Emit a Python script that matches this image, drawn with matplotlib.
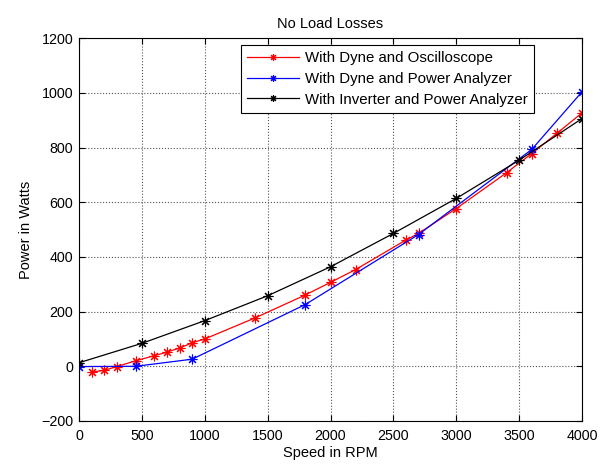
import numpy as np
import matplotlib
matplotlib.use('Agg')
from matplotlib import pyplot as plt

# data
rpm_osc = [100, 200, 300, 450, 600, 700, 800, 900, 1000, 1400, 1800, 2000, 2200, 2600, 2700, 3000, 3400, 3600, 3800, 4000]
pw_osc = [-21, -15, -1, 20, 39, 52, 67, 86, 100, 177, 261, 307, 354, 462, 486, 577, 708, 778, 852, 927]

rpm_pa = [0, 450, 900, 1800, 2700, 3600, 4000]
pw_pa = [-1, 0, 26, 226, 482, 793, 1004]

rpm_inv = [0, 500, 1000, 1500, 2000, 2500, 3000, 3500, 4000]
pw_inv = [13, 84, 167, 258, 364, 486, 614, 754, 906]

labels = ['With Dyne and Oscilloscope', 'With Dyne and Power Analyzer',
          'With Inverter and Power Analyzer']

plt.rcParams['font.family'] = ['Liberation Sans', 'DejaVu Sans']
plt.rcParams['font.size'] = 10

fig = plt.figure(figsize=(6.05, 4.66), dpi=100, facecolor='w')
ax = fig.add_axes([0.1306, 0.0966, 0.8314, 0.8214])

mk = dict(marker=(8, 2, 0), markersize=7, linewidth=0.9, markeredgewidth=0.8)
ax.plot(rpm_osc, pw_osc, color='red', label=labels[0], **mk)
ax.plot(rpm_pa, pw_pa, color='blue', label=labels[1], **mk)
ax.plot(rpm_inv, pw_inv, color='black', label=labels[2], **mk)

ax.set_xlim(0, 4000)
ax.set_ylim(-200, 1200)
ax.set_xticks(np.arange(0, 4001, 500))
ax.set_yticks(np.arange(-200, 1201, 200))
ax.grid(True, linestyle=':', color='#555555', linewidth=0.8)
ax.tick_params(direction='in', top=True, right=True, length=4, labelsize=10.3)
ax.tick_params(axis='x', pad=6)
ax.tick_params(axis='y', pad=4)
for s in ax.spines.values():
    s.set_linewidth(0.8)

ax.set_title('No Load Losses', fontsize=10.5, pad=7)
ax.set_xlabel('Speed in RPM', fontsize=10.5, labelpad=2)
ax.set_ylabel('Power in Watts', fontsize=10.5, labelpad=6)

leg = ax.legend(loc='upper right', bbox_to_anchor=(0.905, 0.982), borderaxespad=0,
                fancybox=False, edgecolor='black', framealpha=1, fontsize=10.8,
                handlelength=3.5, markerscale=0.7, labelspacing=0.45,
                borderpad=0.4, handletextpad=0.4)
leg.get_frame().set_linewidth(0.8)

fig.savefig('out.png', dpi=100)
